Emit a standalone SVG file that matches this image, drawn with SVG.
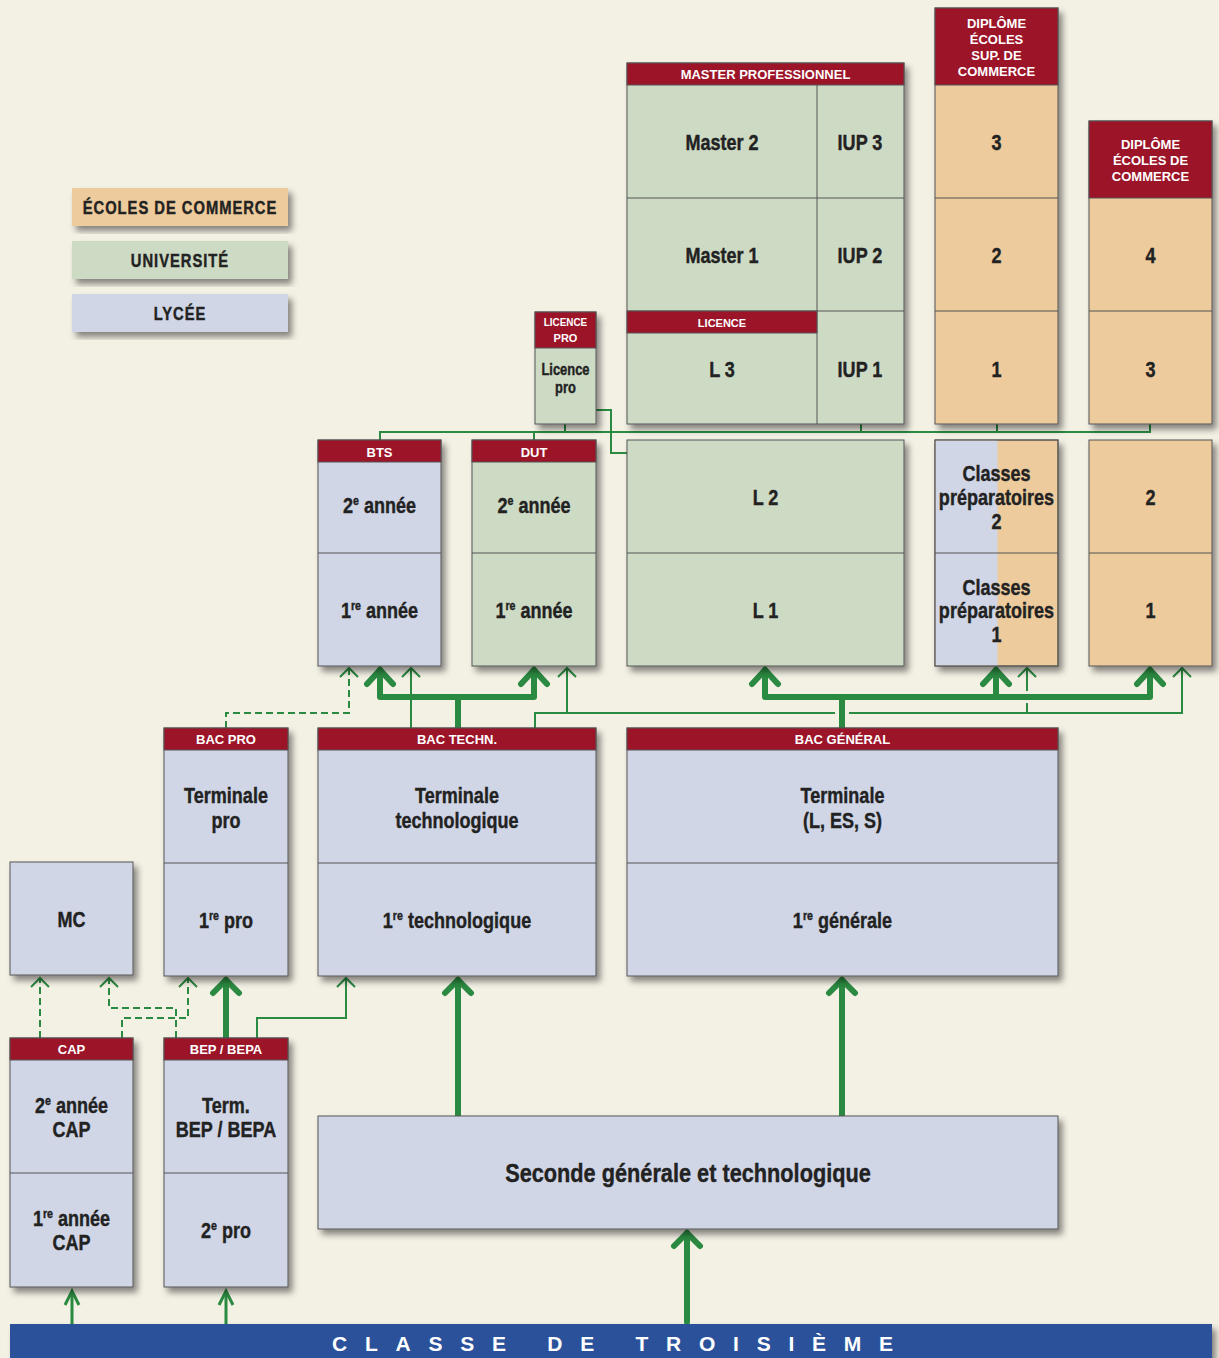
<svg xmlns="http://www.w3.org/2000/svg" width="1219" height="1358" viewBox="0 0 1219 1358">
<defs>
<filter id="sh" x="-20%" y="-20%" width="140%" height="140%">
<feDropShadow dx="4" dy="5" stdDeviation="3" flood-color="#000" flood-opacity="0.45"/>
</filter>
<style>
.bg{fill:#f3f0e4}
.box{stroke:#555;stroke-width:1}
.lyc{fill:#d0d6e6}
.uni{fill:#cddac4}
.eco{fill:#edcb9c}
.hdr{fill:#9c1428}
.ln{stroke:#555;stroke-width:1;fill:none}
.t{font-family:"Liberation Sans",Arial,sans-serif;font-weight:bold;font-size:22px;fill:#222;stroke:#222;stroke-width:0.4;text-anchor:middle}
.s{font-size:13px}
.h{font-family:"Liberation Sans",Arial,sans-serif;font-weight:bold;font-size:13px;fill:#fff;text-anchor:middle}
.lg{font-family:"Liberation Sans",Arial,sans-serif;font-weight:bold;font-size:18px;fill:#222;stroke:#222;stroke-width:0.4;text-anchor:middle;letter-spacing:1.2px}
.k{stroke:#2b8a41;fill:none;stroke-width:6;stroke-linecap:round}
.kh{stroke:#2b8a41;fill:none;stroke-width:6;stroke-linecap:round;stroke-linejoin:miter}
.m{stroke:#2b8a41;fill:none;stroke-width:3}
.n{stroke:#2b8a41;fill:none;stroke-width:2}
.d{stroke:#2b8a41;fill:none;stroke-width:2;stroke-dasharray:7 4}
</style>
</defs>
<rect class="bg" x="0" y="0" width="1219" height="1358"/>

<g id="legend">
<rect class="eco" filter="url(#sh)" x="72" y="188" width="216" height="38"/>
<text class="lg" transform="translate(180,214) scale(.82,1)">ÉCOLES DE COMMERCE</text>
<rect class="uni" filter="url(#sh)" x="72" y="241" width="216" height="38"/>
<text class="lg" transform="translate(180,267) scale(.82,1)">UNIVERSITÉ</text>
<rect class="lyc" filter="url(#sh)" x="72" y="294" width="216" height="38"/>
<text class="lg" transform="translate(180,320) scale(.82,1)">LYCÉE</text>
</g>

<g id="connectors">
<path class="n" d="M380,440 V432 H1150 V424 M534,432 V440 M565,424 V432 M861,424 V432 M997,424 V432"/>
<path class="n" d="M596,410 H611 V453 H627"/>
<path class="k" d="M458,728 V697 M380,697 H534 M380,697 V670 M534,697 V670"/>
<path class="kh" d="M367,684 L380,670 L393,684 M521,684 L534,670 L547,684"/>
<path class="k" d="M842,728 V697 M765,697 H1150 M765,697 V670 M996,697 V670 M1150,697 V670"/>
<path class="kh" d="M752,684 L765,670 L778,684 M983,684 L996,670 L1009,684 M1137,684 L1150,670 L1163,684"/>
<path class="n" d="M411,728 V668 M402,677 L411,668 L420,677"/>
<path class="n" d="M535,728 V713 H835 M849,713 H1182 V668 M567,713 V668 M1027,713 V703 M1027,691 V668 M558,677 L567,668 L576,677 M1018,677 L1027,668 L1036,677 M1173,677 L1182,668 L1191,677"/>
<path class="d" d="M226,728 V713 H349 V668"/>
<path class="n" d="M340,677 L349,668 L358,677"/>
<path class="k" d="M687,1322 V1233 M458,1116 V980 M842,1116 V980 M226,1038 V980"/>
<path class="kh" d="M674,1246 L687,1233 L700,1246 M445,993 L458,980 L471,993 M829,993 L842,980 L855,993 M213,993 L226,980 L239,993"/>
<path class="m" d="M72,1324 V1292 M226,1324 V1292"/>
<path class="m" d="M65,1305 L72,1291 L79,1305 M219,1305 L226,1291 L233,1305"/>
<path class="n" d="M257,1038 V1018 H346 V978 M337,987 L346,978 L355,987"/>
<path class="d" d="M40,1038 V978 M122,1038 V1018 H188 V978 M176,1038 V1008 H109 V978"/>
<path class="n" d="M31,987 L40,978 L49,987 M179,987 L188,978 L197,987 M100,987 L109,978 L118,987"/>
</g>

<g id="master">
<rect class="uni box" filter="url(#sh)" x="627" y="63" width="277" height="361"/>
<rect class="hdr box" x="627" y="63" width="277" height="22"/>
<text class="h" x="765.5" y="79">MASTER PROFESSIONNEL</text>
<path class="ln" d="M817,85 V424 M627,198 H904 M627,311 H904"/>
<rect class="hdr box" x="627" y="311" width="190" height="22"/>
<text class="h" x="722" y="327" style="font-size:11px">LICENCE</text>
<text class="t" transform="translate(722,150) scale(.82,1)">Master 2</text>
<text class="t" transform="translate(860,150) scale(.82,1)">IUP 3</text>
<text class="t" transform="translate(722,263) scale(.82,1)">Master 1</text>
<text class="t" transform="translate(860,263) scale(.82,1)">IUP 2</text>
<text class="t" transform="translate(722,377) scale(.82,1)">L 3</text>
<text class="t" transform="translate(860,377) scale(.82,1)">IUP 1</text>
</g>

<g id="licence-pro">
<rect class="uni box" filter="url(#sh)" x="535" y="312" width="61" height="112"/>
<rect class="hdr box" x="535" y="312" width="61" height="36"/>
<text class="h" transform="translate(565.5,326) scale(.9,1)" style="font-size:11px">LICENCE</text>
<text class="h" x="565.5" y="342" style="font-size:11px">PRO</text>
<text class="t" transform="translate(565.5,375) scale(.76,1)" style="font-size:17px">Licence</text>
<text class="t" transform="translate(565.5,393) scale(.76,1)" style="font-size:17px">pro</text>
</g>

<g id="ecoles-sup">
<rect class="eco box" filter="url(#sh)" x="935" y="8" width="123" height="416"/>
<rect class="hdr box" x="935" y="8" width="123" height="77"/>
<text class="h" x="996.5" y="28">DIPLÔME</text>
<text class="h" x="996.5" y="44">ÉCOLES</text>
<text class="h" x="996.5" y="60">SUP. DE</text>
<text class="h" x="996.5" y="76">COMMERCE</text>
<path class="ln" d="M935,198 H1058 M935,311 H1058"/>
<text class="t" transform="translate(996.5,150) scale(.82,1)">3</text>
<text class="t" transform="translate(996.5,263) scale(.82,1)">2</text>
<text class="t" transform="translate(996.5,377) scale(.82,1)">1</text>
</g>

<g id="ecoles">
<rect class="eco box" filter="url(#sh)" x="1089" y="121" width="123" height="303"/>
<rect class="hdr box" x="1089" y="121" width="123" height="77"/>
<text class="h" x="1150.5" y="149">DIPLÔME</text>
<text class="h" x="1150.5" y="165">ÉCOLES DE</text>
<text class="h" x="1150.5" y="181">COMMERCE</text>
<path class="ln" d="M1089,311 H1212"/>
<text class="t" transform="translate(1150.5,263) scale(.82,1)">4</text>
<text class="t" transform="translate(1150.5,377) scale(.82,1)">3</text>
</g>

<g id="bts">
<rect class="lyc box" filter="url(#sh)" x="318" y="440" width="123" height="226"/>
<rect class="hdr box" x="318" y="440" width="123" height="22"/>
<text class="h" x="379.5" y="457">BTS</text>
<path class="ln" d="M318,553 H441"/>
<text class="t" transform="translate(379.5,513) scale(.82,1)">2<tspan class="s" dy="-8">e</tspan><tspan dy="8"> année</tspan></text>
<text class="t" transform="translate(379.5,618) scale(.82,1)">1<tspan class="s" dy="-8">re</tspan><tspan dy="8"> année</tspan></text>
</g>

<g id="dut">
<rect class="uni box" filter="url(#sh)" x="472" y="440" width="124" height="226"/>
<rect class="hdr box" x="472" y="440" width="124" height="22"/>
<text class="h" x="534" y="457">DUT</text>
<path class="ln" d="M472,553 H596"/>
<text class="t" transform="translate(534,513) scale(.82,1)">2<tspan class="s" dy="-8">e</tspan><tspan dy="8"> année</tspan></text>
<text class="t" transform="translate(534,618) scale(.82,1)">1<tspan class="s" dy="-8">re</tspan><tspan dy="8"> année</tspan></text>
</g>

<g id="licence">
<rect class="uni box" filter="url(#sh)" x="627" y="440" width="277" height="226"/>
<path class="ln" d="M627,553 H904"/>
<text class="t" transform="translate(765.5,505) scale(.82,1)">L 2</text>
<text class="t" transform="translate(765.5,618) scale(.82,1)">L 1</text>
</g>

<g id="prepa">
<rect class="eco box" filter="url(#sh)" x="935" y="440" width="123" height="226"/>
<rect class="lyc" x="935.5" y="440.5" width="62" height="225"/>
<rect class="box" fill="none" x="935" y="440" width="123" height="226"/>
<path class="ln" d="M935,553 H1058"/>
<text class="t" transform="translate(996.5,481) scale(.82,1)">Classes</text>
<text class="t" transform="translate(996.5,505) scale(.82,1)">préparatoires</text>
<text class="t" transform="translate(996.5,529) scale(.82,1)">2</text>
<text class="t" transform="translate(996.5,595) scale(.82,1)">Classes</text>
<text class="t" transform="translate(996.5,618) scale(.82,1)">préparatoires</text>
<text class="t" transform="translate(996.5,642) scale(.82,1)">1</text>
</g>

<g id="ecoles-12">
<rect class="eco box" filter="url(#sh)" x="1089" y="440" width="123" height="226"/>
<path class="ln" d="M1089,553 H1212"/>
<text class="t" transform="translate(1150.5,505) scale(.82,1)">2</text>
<text class="t" transform="translate(1150.5,618) scale(.82,1)">1</text>
</g>

<g id="bac-pro">
<rect class="lyc box" filter="url(#sh)" x="164" y="728" width="124" height="248"/>
<rect class="hdr box" x="164" y="728" width="124" height="22"/>
<text class="h" x="226" y="744">BAC PRO</text>
<path class="ln" d="M164,863 H288"/>
<text class="t" transform="translate(226,803) scale(.82,1)">Terminale</text>
<text class="t" transform="translate(226,828) scale(.82,1)">pro</text>
<text class="t" transform="translate(226,928) scale(.82,1)">1<tspan class="s" dy="-8">re</tspan><tspan dy="8"> pro</tspan></text>
</g>

<g id="bac-techn">
<rect class="lyc box" filter="url(#sh)" x="318" y="728" width="278" height="248"/>
<rect class="hdr box" x="318" y="728" width="278" height="22"/>
<text class="h" x="457" y="744">BAC TECHN.</text>
<path class="ln" d="M318,863 H596"/>
<text class="t" transform="translate(457,803) scale(.82,1)">Terminale</text>
<text class="t" transform="translate(457,828) scale(.82,1)">technologique</text>
<text class="t" transform="translate(457,928) scale(.82,1)">1<tspan class="s" dy="-8">re</tspan><tspan dy="8"> technologique</tspan></text>
</g>

<g id="bac-general">
<rect class="lyc box" filter="url(#sh)" x="627" y="728" width="431" height="248"/>
<rect class="hdr box" x="627" y="728" width="431" height="22"/>
<text class="h" x="842.5" y="744">BAC GÉNÉRAL</text>
<path class="ln" d="M627,863 H1058"/>
<text class="t" transform="translate(842.5,803) scale(.82,1)">Terminale</text>
<text class="t" transform="translate(842.5,828) scale(.82,1)">(L, ES, S)</text>
<text class="t" transform="translate(842.5,928) scale(.82,1)">1<tspan class="s" dy="-8">re</tspan><tspan dy="8"> générale</tspan></text>
</g>

<g id="mc">
<rect class="lyc box" filter="url(#sh)" x="10" y="862" width="123" height="113"/>
<text class="t" transform="translate(71.5,927) scale(.82,1)">MC</text>
</g>

<g id="cap">
<rect class="lyc box" filter="url(#sh)" x="10" y="1038" width="123" height="249"/>
<rect class="hdr box" x="10" y="1038" width="123" height="22"/>
<text class="h" x="71.5" y="1054">CAP</text>
<path class="ln" d="M10,1173 H133"/>
<text class="t" transform="translate(71.5,1113) scale(.82,1)">2<tspan class="s" dy="-8">e</tspan><tspan dy="8"> année</tspan></text>
<text class="t" transform="translate(71.5,1137) scale(.82,1)">CAP</text>
<text class="t" transform="translate(71.5,1226) scale(.82,1)">1<tspan class="s" dy="-8">re</tspan><tspan dy="8"> année</tspan></text>
<text class="t" transform="translate(71.5,1250) scale(.82,1)">CAP</text>
</g>

<g id="bep">
<rect class="lyc box" filter="url(#sh)" x="164" y="1038" width="124" height="249"/>
<rect class="hdr box" x="164" y="1038" width="124" height="22"/>
<text class="h" x="226" y="1054">BEP / BEPA</text>
<path class="ln" d="M164,1173 H288"/>
<text class="t" transform="translate(226,1113) scale(.82,1)">Term.</text>
<text class="t" transform="translate(226,1137) scale(.82,1)">BEP / BEPA</text>
<text class="t" transform="translate(226,1238) scale(.82,1)">2<tspan class="s" dy="-8">e</tspan><tspan dy="8"> pro</tspan></text>
</g>

<g id="seconde">
<rect class="lyc box" filter="url(#sh)" x="318" y="1116" width="740" height="113"/>
<text class="t" transform="translate(688,1182) scale(.82,1)" style="font-size:26.5px">Seconde générale et technologique</text>
</g>

<g id="troisieme">
<rect fill="#2a519a" filter="url(#sh)" x="10" y="1324" width="1202" height="40"/>
<text x="332" y="1351" textLength="561" lengthAdjust="spacing" style="font-family:'Liberation Sans',Arial,sans-serif;font-weight:bold;font-size:21px;fill:#fff">CLASSE DE TROISIÈME</text>
</g>
</svg>
